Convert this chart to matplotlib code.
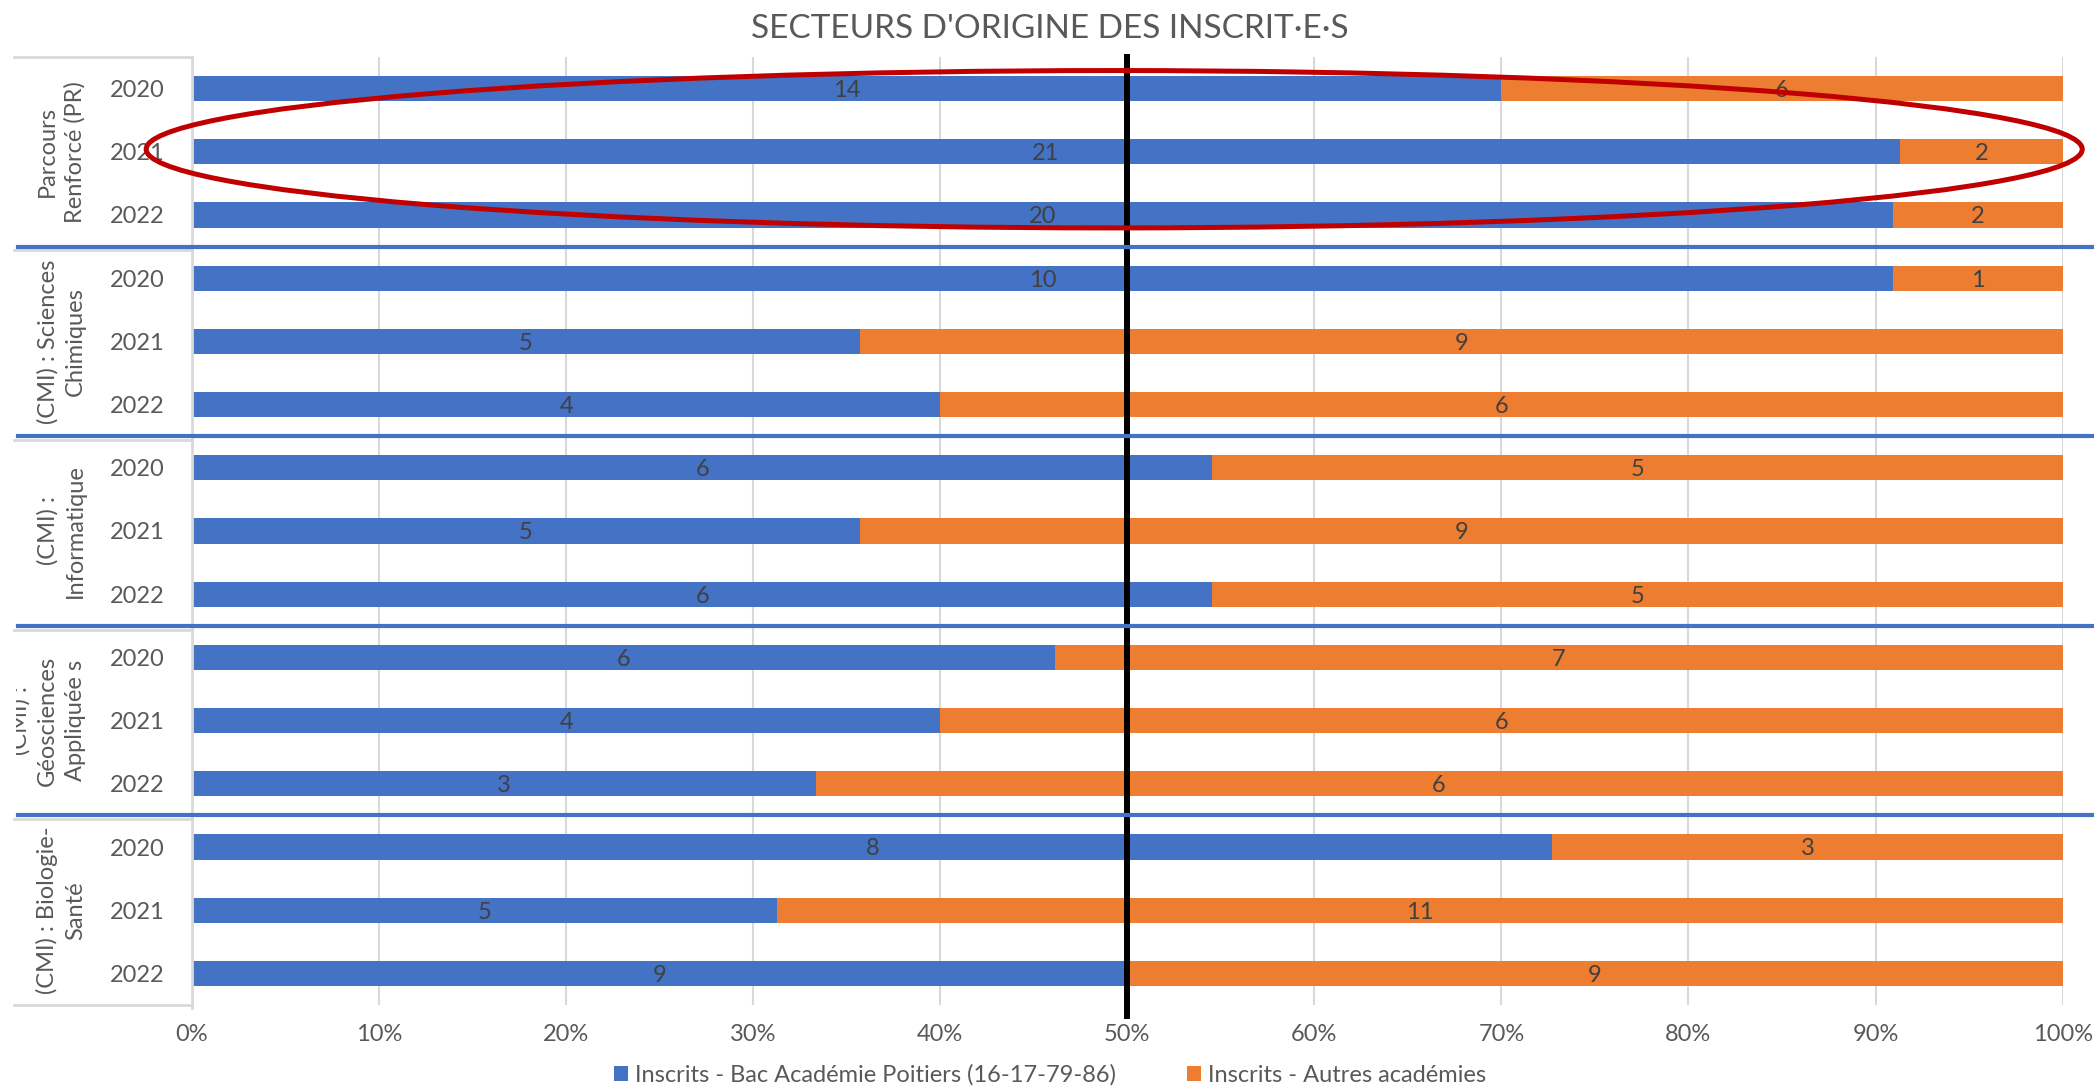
import matplotlib.pyplot as plt
import numpy as np
from matplotlib.patches import Ellipse
from matplotlib.transforms import blended_transform_factory, Bbox, TransformedBbox

plt.rcParams['font.family'] = ['Lato', 'DejaVu Sans']

# data
groups = ["Parcours\nRenforcé (PR)", "(CMI) : Sciences\nChimiques", "(CMI) :\nInformatique",
          "(CMI) :\nGéosciences\nAppliquée s", "(CMI) : Biologie-\nSanté"]
years = ["2020", "2021", "2022"]
poitiers = [14, 21, 20, 10, 5, 4, 6, 5, 6, 6, 4, 3, 8, 5, 9]
autres = [6, 2, 2, 1, 9, 6, 5, 9, 5, 7, 6, 6, 3, 11, 9]
xticks = [0, 10, 20, 30, 40, 50, 60, 70, 80, 90, 100]

BLUE = '#4472C4'
ORANGE = '#ED7D31'
GREY_TXT = '#595959'
GRID = '#D9D9D9'
FS = 17

poitiers = np.array(poitiers, dtype=float)
autres = np.array(autres, dtype=float)
total = poitiers + autres
p_pct = poitiers / total * 100
a_pct = autres / total * 100
n = len(poitiers)
ypos = np.arange(n)

fig = plt.figure(figsize=(20.94, 10.87), dpi=100)
ax = fig.add_axes([0.0917, 0.0754, 0.985 - 0.0917, 0.9476 - 0.0754])

b1 = ax.barh(ypos, p_pct, height=0.4, color=BLUE, label="Inscrits - Bac Académie Poitiers (16-17-79-86)", zorder=2)
b2 = ax.barh(ypos, a_pct, left=p_pct, height=0.4, color=ORANGE, label="Inscrits - Autres académies", zorder=2)

for i in range(n):
    ax.text(p_pct[i] / 2, ypos[i] + 0.03, "%d" % poitiers[i], ha='center', va='center',
            fontsize=FS, color='#404040', zorder=3)
    ax.text(p_pct[i] + a_pct[i] / 2, ypos[i] + 0.03, "%d" % autres[i], ha='center', va='center',
            fontsize=FS, color='#404040', zorder=3)

ax.set_xlim(0, 100)
ax.set_ylim(n - 0.5, -0.5)
ax.set_xticks(xticks)
ax.set_xticklabels(["%d%%" % t for t in xticks], fontsize=FS, color=GREY_TXT)
ax.tick_params(axis='x', length=0, pad=14)
ax.set_yticks(ypos)
ax.set_yticklabels(years * len(groups), fontsize=FS, color=GREY_TXT)
ax.tick_params(axis='y', length=0, pad=20)
ax.grid(axis='x', color=GRID, lw=1.5, zorder=0)
for s in ['top', 'right', 'bottom']:
    ax.spines[s].set_visible(False)
ax.spines['left'].set_color(GRID)
ax.spines['left'].set_linewidth(2)
ax.spines['left'].set_bounds(n - 0.45, -0.5)

# black 50% line
ax.axvline(50, ymin=-0.012, ymax=1, color='black', lw=4.3, zorder=4, clip_on=False)

# label area lines and group separators
tr = blended_transform_factory(fig.transFigure, ax.transData)
x0 = 14 / 2094
xa = 192 / 2094
for yb in [-0.5, n - 0.5]:
    ax.plot([x0, xa], [yb, yb], transform=tr, color=GRID, lw=2, clip_on=False, zorder=1)
for k in range(1, len(groups)):
    yb = 3 * k - 0.5
    ax.plot([x0, xa], [yb + 0.06, yb + 0.06], transform=tr, color=GRID, lw=2, clip_on=False, zorder=1)
    ax.plot([x0 + 0.002, 1.0], [yb, yb], transform=tr, color=BLUE, lw=3, clip_on=False, zorder=5)

# group labels (the 3-line one gets cut on the left like in excel)
clip = TransformedBbox(Bbox.from_extents(16 / 2094, 0, 0.2, 1), fig.transFigure)
for k, g in enumerate(groups):
    t = ax.text(86 / 2094, 3 * k + 1, g, transform=tr, rotation=90, ha='right', va='center',
                multialignment='center', fontsize=FS, color=GREY_TXT, linespacing=1.4)
    t.set_clip_box(clip)
    t.set_clip_on(True)

# red ellipse
ell = Ellipse((49.3, 0.96), width=103.5, height=2.49, fill=False, edgecolor='#C00000',
              lw=3.6, zorder=6, clip_on=False)
ax.add_patch(ell)

fig.text(0.5015, 0.973, "SECTEURS D'ORIGINE DES INSCRIT·E·S", ha='center', va='center',
         fontsize=24, color=GREY_TXT)

fig.legend(handles=[b1, b2], loc='center', bbox_to_anchor=(0.5015, 0.011), ncol=2, frameon=False,
           fontsize=FS, labelcolor=GREY_TXT, handlelength=0.6, handleheight=0.6,
           handletextpad=0.3, columnspacing=3)

fig.savefig('out.png', dpi=100)
